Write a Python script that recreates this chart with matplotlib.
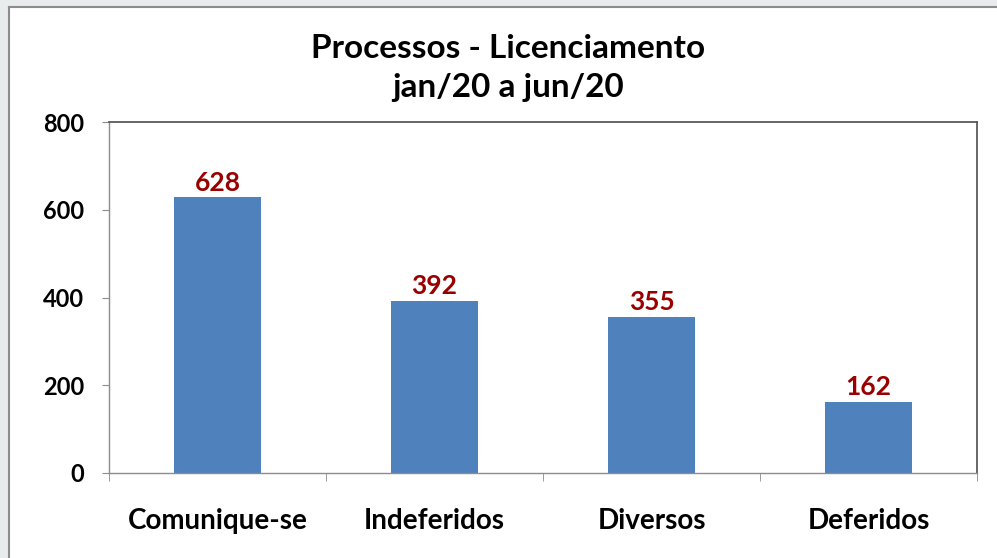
import matplotlib
matplotlib.use("Agg")
import matplotlib.pyplot as plt
import numpy as np
from matplotlib.patches import Rectangle
from matplotlib.lines import Line2D

plt.rcParams["font.family"] = ["Lato", "DejaVu Sans"]

categories = ["Comunique-se", "Indeferidos", "Diversos", "Deferidos"]
values = [628, 392, 355, 162]
title = "Processos - Licenciamento\njan/20 a jun/20"

BAR = "#4F81BD"
LABEL = "#990000"

fig = plt.figure(figsize=(9.97, 5.58), dpi=100, facecolor="white")

# grey window edge (top and left) like the Excel screenshot
fig.patches.append(Rectangle((0, 1 - 6 / 558), 1, 6 / 558, transform=fig.transFigure,
                             color="#e8ecec", zorder=0))
fig.patches.append(Rectangle((0, 0), 8 / 997, 1, transform=fig.transFigure,
                             color="#e8ecec", zorder=0))
fig.lines.append(Line2D([8.5 / 997, 1], [1 - 6.5 / 558, 1 - 6.5 / 558],
                        transform=fig.transFigure, color="#8c8c8c", lw=1.5))
fig.lines.append(Line2D([8.5 / 997, 8.5 / 997], [0, 1 - 6.5 / 558],
                        transform=fig.transFigure, color="#8c8c8c", lw=1.5))

ax = fig.add_axes([109 / 997, 1 - 473 / 558, 868 / 997, 351 / 558])
x = np.arange(len(categories))
bars = ax.bar(x, values, width=0.4, color=BAR, zorder=2)

ax.set_xlim(-0.5, len(categories) - 0.5)
ax.set_ylim(0, 800)
ax.set_yticks(range(0, 801, 200))
ax.set_xticks(x)
ax.set_xticklabels(categories)
ax.set_xticks(np.arange(-0.5, len(categories)), minor=True)

for sp in ("top", "right"):
    ax.spines[sp].set_color("#5a5a5a")
    ax.spines[sp].set_linewidth(1.3)
for sp in ("left", "bottom"):
    ax.spines[sp].set_color("#8c8c8c")
    ax.spines[sp].set_linewidth(1.0)

ax.tick_params(axis="y", length=5, color="#8c8c8c", labelsize=17, pad=13)
ax.tick_params(axis="x", which="major", length=0, labelsize=20, pad=25)
ax.tick_params(axis="x", which="minor", length=6, color="#8c8c8c")
for lab in ax.get_xticklabels() + ax.get_yticklabels():
    lab.set_fontweight("bold")

for b, v in zip(bars, values):
    ax.annotate(str(v), (b.get_x() + b.get_width() / 2, v), xytext=(0, 2),
                textcoords="offset points", ha="center", va="bottom",
                color=LABEL, fontsize=19, fontweight="bold")

fig.text(0.51, 1 - 68 / 558, title, ha="center", va="center", fontsize=24,
         fontweight="bold", linespacing=1.45)

fig.savefig("out.png", dpi=100, facecolor="white")
